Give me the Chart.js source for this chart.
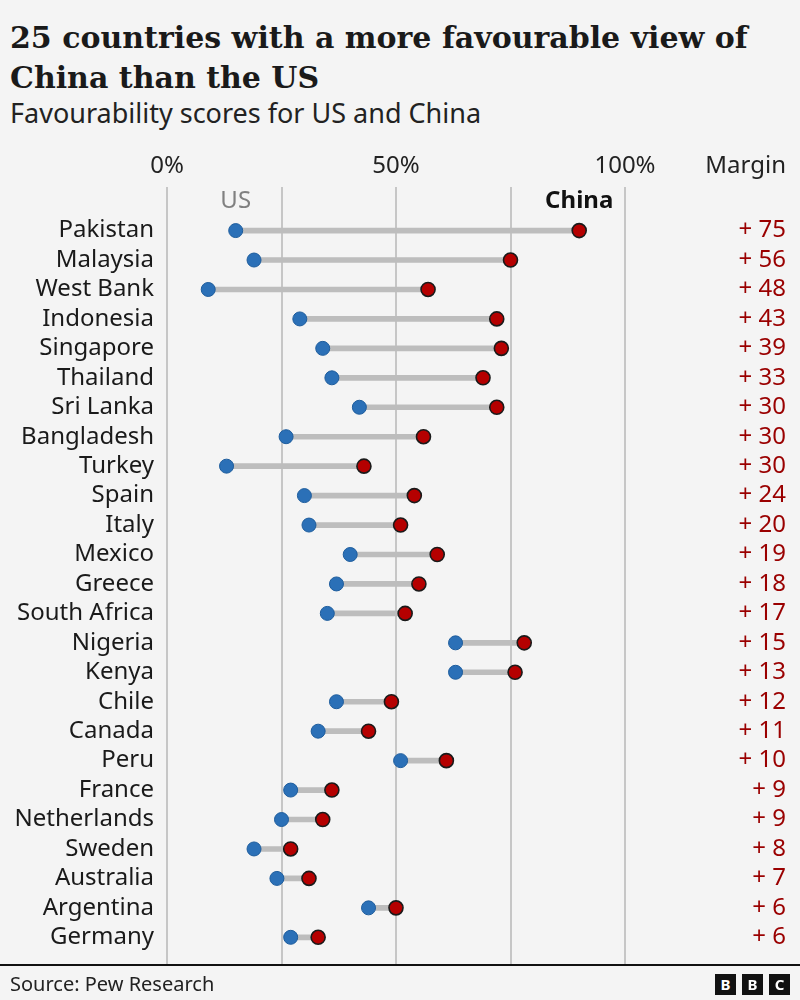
<!DOCTYPE html>
<html lang="en">
<head>
    <meta charset="UTF-8">
    <title>25 countries with a more favourable view of China than the US</title>
    <style>
      body { margin: 0; background: #f4f4f4; font-family: "Noto Sans", sans-serif; }
      #page { position: relative; width: 800px; height: 1000px; overflow: hidden; }
      #title { position: absolute; left: 10px; top: 18px; margin: 0; font-family: "DejaVu Serif", serif;
               font-weight: bold; font-size: 30px; line-height: 40px; color: #1a1a1a; }
      #subtitle { position: absolute; left: 10px; top: 97px; margin: 0; font-size: 27px; line-height: 32px; color: #222; }
      #chartBox { position: absolute; left: 0; top: 140px; width: 800px; height: 833px; }
      #footer { position: absolute; left: 0; top: 964px; width: 800px; height: 36px; border-top: 2px solid #111; }
      #source { position: absolute; left: 10px; top: 4px; font-size: 20px; color: #222; }
      .bbc { position: absolute; top: 8px; width: 21px; height: 21px; background: #111; color: #fff;
             font: bold 15px "Noto Sans", sans-serif; text-align: center; line-height: 21px; }
    </style>
</head>
<body>
<div id="page">
    <h1 id="title">25 countries with a more favourable view of<br>China than the US</h1>
    <p id="subtitle">Favourability scores for US and China</p>
    <div id="chartBox"><canvas id="dumbbellChart" width="800" height="833"></canvas></div>
    <div id="footer">
        <div id="source">Source: Pew Research</div>
        <div class="bbc" style="left: 715px;">B</div>
        <div class="bbc" style="left: 742px;">B</div>
        <div class="bbc" style="left: 769px;">C</div>
    </div>
</div>

<script src="https://cdn.jsdelivr.net/npm/chart.js@4"></script>

<!-- Data -->
<script>
    const countries = ['Pakistan', 'Malaysia', 'West Bank', 'Indonesia', 'Singapore', 'Thailand', 'Sri Lanka',
        'Bangladesh', 'Turkey', 'Spain', 'Italy', 'Mexico', 'Greece', 'South Africa', 'Nigeria', 'Kenya',
        'Chile', 'Canada', 'Peru', 'France', 'Netherlands', 'Sweden', 'Australia', 'Argentina', 'Germany'];
    const usScores = [15, 19, 9, 29, 34, 36, 42, 26, 13, 30, 31, 40, 37, 35, 63, 63, 37, 33, 51, 27, 25, 19, 24, 44, 27];
    const chinaScores = [90, 75, 57, 72, 73, 69, 72, 56, 43, 54, 51, 59, 55, 52, 78, 76, 49, 44, 61, 36, 34, 27, 31, 50, 33];
    const margins = [75, 56, 48, 43, 39, 33, 30, 30, 30, 24, 20, 19, 18, 17, 15, 13, 12, 11, 10, 9, 9, 8, 7, 6, 6];
    const xTicks = [0, 25, 50, 75, 100];
</script>

<!-- Dumbbell chart -->
<script>
    Chart.defaults.font.family = '"Noto Sans", sans-serif';
    Chart.defaults.font.size = 24;
    Chart.defaults.color = '#222';

    // row 0 holds the US / China key, countries sit on rows 1..25
    const rowMin = -0.48;
    const rowMax = 25.92;

    const seriesLabels = {
        id: 'seriesLabels',
        afterDraw(chart) {
            const c = chart.ctx;
            const x = chart.scales.x;
            const y = chart.scales.y;
            const y2 = chart.scales.y2;
            c.save();
            c.textBaseline = 'middle';
            c.textAlign = 'center';
            c.font = '24px "Noto Sans", sans-serif';
            c.fillStyle = '#808080';
            c.fillText('US', x.getPixelForValue(usScores[0]), y.getPixelForValue(0));
            c.font = 'bold 24px "Noto Sans", sans-serif';
            c.fillStyle = '#111';
            c.fillText('China', x.getPixelForValue(chinaScores[0]), y.getPixelForValue(0));
            c.font = '24px "Noto Sans", sans-serif';
            c.fillStyle = '#222';
            c.textAlign = 'right';
            c.fillText('Margin', y2.right, 26.5);
            c.restore();
        }
    };

    const rowTicks = scale => { scale.ticks = countries.map((c, i) => ({ value: i + 1 })); };
    // fixed widths, and no extra room for half tick labels
    const fixWidth = w => scale => {
        scale.width = w;
        scale.paddingTop = 0;
        scale.paddingBottom = 0;
    };

    new Chart(document.getElementById('dumbbellChart'), {
        type: 'bar',
        data: {
            datasets: [{
                label: 'Gap',
                data: countries.map((c, i) => ({ x: [usScores[i], chinaScores[i]], y: i + 1 })),
                backgroundColor: '#bdbdbd',
                barThickness: 5,
                order: 3
            }, {
                type: 'scatter',
                label: 'US',
                data: countries.map((c, i) => ({ x: usScores[i], y: i + 1 })),
                pointRadius: 7,
                pointBackgroundColor: '#2b70b7',
                pointBorderColor: '#1d5c9c',
                pointBorderWidth: 1,
                order: 2
            }, {
                type: 'scatter',
                label: 'China',
                data: countries.map((c, i) => ({ x: chinaScores[i], y: i + 1 })),
                pointRadius: 7,
                pointBackgroundColor: '#b50000',
                pointBorderColor: '#1a1a1a',
                pointBorderWidth: 1.6,
                order: 1
            }]
        },
        options: {
            indexAxis: 'y',
            responsive: false,
            animation: false,
            layout: { padding: { left: 0, right: 14, top: 0, bottom: 2 } },
            plugins: {
                legend: { display: false },
                tooltip: { enabled: false }
            },
            scales: {
                x: {
                    type: 'linear',
                    position: 'top',
                    min: 0,
                    max: 100,
                    afterBuildTicks: scale => { scale.ticks = xTicks.map(v => ({ value: v })); },
                    afterFit: scale => {
                        scale.height = 47;
                        scale.paddingLeft = 0;
                        scale.paddingRight = 0;
                    },
                    ticks: {
                        padding: 6,
                        maxRotation: 0,
                        autoSkip: false,
                        callback: v => (v % 50 === 0 ? v + '%' : '')
                    },
                    grid: { color: '#c6c6c6', lineWidth: 2, drawTicks: false },
                    border: { display: false }
                },
                y: {
                    type: 'linear',
                    position: 'left',
                    offset: false,
                    reverse: true,
                    min: rowMin,
                    max: rowMax,
                    afterBuildTicks: rowTicks,
                    afterFit: fixWidth(167),
                    ticks: {
                        padding: 13,
                        autoSkip: false,
                        color: '#1a1a1a',
                        callback: v => countries[v - 1] || ''
                    },
                    grid: { display: false, drawTicks: false, offset: false },
                    border: { display: false }
                },
                y2: {
                    type: 'linear',
                    position: 'right',
                    offset: false,
                    reverse: true,
                    min: rowMin,
                    max: rowMax,
                    afterBuildTicks: rowTicks,
                    afterFit: fixWidth(161),
                    ticks: {
                        crossAlign: 'far',
                        autoSkip: false,
                        color: '#9a0000',
                        callback: v => (margins[v - 1] !== undefined ? '+ ' + margins[v - 1] : '')
                    },
                    grid: { display: false, drawTicks: false },
                    border: { display: false }
                }
            }
        },
        plugins: [seriesLabels]
    });
</script>
</body>
</html>
